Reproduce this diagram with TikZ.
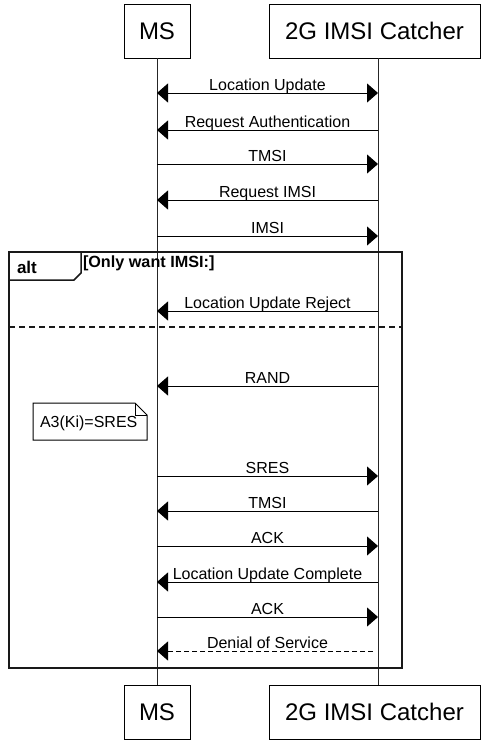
\documentclass[tikz,border=0pt]{standalone}
\usepackage{fontspec}
\setmainfont{Liberation Sans}
\usetikzlibrary{arrows.meta}
\begin{document}
\begin{tikzpicture}[x=1pt,y=-1pt,
  every node/.style={inner sep=0pt, outer sep=0pt},
  actor/.style={draw=black, line width=1pt, fill=white,
    font=\fontsize{24}{28}\selectfont, minimum height=54pt},
  lifeline/.style={draw=black!85, line width=1pt},
  msg/.style={draw=black, line width=1pt, -{Triangle[length=11pt,width=19pt]}},
  biway/.style={draw=black, line width=1pt,
    {Triangle[length=11pt,width=19pt]}-{Triangle[length=11pt,width=19pt]}},
  reply/.style={msg, dash pattern=on 5pt off 3pt},
  lbl/.style={font=\fontsize{16}{19}\selectfont, anchor=base, yshift=2.5pt},
  framebox/.style={draw=black!90, line width=1.8pt},
]
\useasboundingbox (0,0) rectangle (481,740);

% participants, top and bottom
\node[actor, minimum width=66pt]  (msTop)  at (157,31)   {MS};
\node[actor, minimum width=211pt] (catTop) at (374.5,31) {2G IMSI Catcher};
\node[actor, minimum width=66pt]  (msBot)  at (157,712)  {MS};
\node[actor, minimum width=211pt] (catBot) at (374.5,712) {2G IMSI Catcher};
\coordinate (catX) at (378,0);

% lifelines
\draw[lifeline] (msTop.south) -- (msBot.north);
\draw[lifeline] (catTop.south -| catX) -- (catBot.north -| catX);

% message anchor points on both lifelines
\foreach \i/\y in {1/93,2/130,3/164,4/200,5/236,6/311,7/386,
                   8/476,9/511,10/546,11/582,12/617,13/651}{
  \coordinate (ms\i) at (157,\y);
  \coordinate (ct\i) at (378,\y);
}

% alt combined fragment
\draw[framebox] (9,252) rectangle (402,668);
\draw[framebox, line width=1.5pt] (9,252) -- (81,252) -- (81,273) -- (74,280) -- (9,280);
\node[anchor=base west, font=\fontsize{17}{20}\selectfont\bfseries] (altTag) at (17,273) {alt};
\node[anchor=base west, font=\fontsize{16.2}{19}\selectfont\bfseries] (altCond) at (83,267) {[Only want IMSI:]};
\draw[framebox, dash pattern=on 6pt off 4pt] (9,327) -- (402,327);

% messages
\draw[biway] (ms1) -- (ct1);
\path (ms1) -- (ct1) node[midway, lbl] {Location Update};
\draw[msg] (ct2) -- (ms2);
\path (ms2) -- (ct2) node[midway, lbl] {Request Authentication};
\draw[msg] (ms3) -- (ct3);
\path (ms3) -- (ct3) node[midway, lbl] {TMSI};
\draw[msg] (ct4) -- (ms4);
\path (ms4) -- (ct4) node[midway, lbl] {Request IMSI};
\draw[msg] (ms5) -- (ct5);
\path (ms5) -- (ct5) node[midway, lbl] {IMSI};
\draw[msg] (ct6) -- (ms6);
\path (ms6) -- (ct6) node[midway, lbl] {Location Update Reject};
\draw[msg] (ct7) -- (ms7);
\path (ms7) -- (ct7) node[midway, lbl] {RAND};
\draw[msg] (ms8) -- (ct8);
\path (ms8) -- (ct8) node[midway, lbl] {SRES};
\draw[msg] (ct9) -- (ms9);
\path (ms9) -- (ct9) node[midway, lbl] {TMSI};
\draw[msg] (ms10) -- (ct10);
\path (ms10) -- (ct10) node[midway, lbl] {ACK};
\draw[msg] (ct11) -- (ms11);
\path (ms11) -- (ct11) node[midway, lbl] {Location Update Complete};
\draw[msg] (ms12) -- (ct12);
\path (ms12) -- (ct12) node[midway, lbl] {ACK};
\draw[reply] ([xshift=-5pt]ct13) -- (ms13);
\path (ms13) -- (ct13) node[midway, lbl] {Denial of Service};

% note with folded corner
\draw[line width=1pt, fill=white] (33,403) -- (135,403) -- (147,415) -- (147,440) -- (33,440) -- cycle;
\draw[line width=1pt] (135,403) -- (135,415) -- (147,415);
\node[anchor=base west, font=\fontsize{16}{19}\selectfont] (note) at (40,427) {A3(Ki)=SRES};
\end{tikzpicture}
\end{document}
